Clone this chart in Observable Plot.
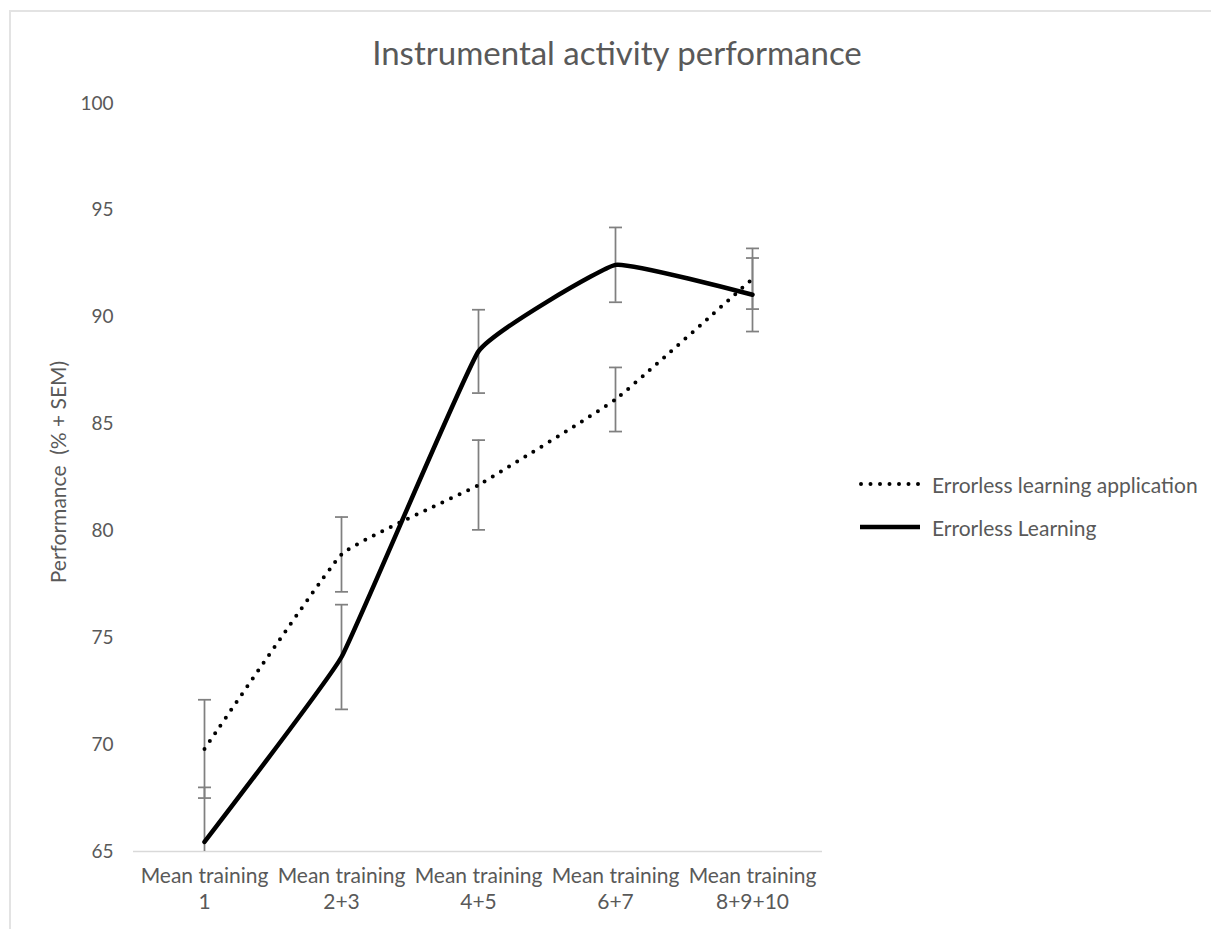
<!DOCTYPE html>
<html>
<head>
<meta charset="utf-8">
<script src="https://cdn.jsdelivr.net/npm/d3@7"></script>
<script src="https://cdn.jsdelivr.net/npm/@observablehq/plot@0.6"></script>
<style>
  html, body { margin: 0; padding: 0; background: #fff; }
  #wrap { position: relative; width: 1211px; height: 929px; overflow: hidden; font-family: Lato, "Open Sans", sans-serif; color: #595959; }
  #border { position: absolute; left: 9px; top: 10px; width: 1300px; height: 1000px; border-top: 2px solid #e3e3e3; border-left: 2px solid #e3e3e3; }
  #title { position: absolute; left: 0; width: 1234px; top: 32px; text-align: center; font-size: 33px; line-height: 40px; }
  #ylabel { position: absolute; left: 57px; top: 472px; transform: translate(-50%, -50%) rotate(-90deg); font-size: 21px; white-space: pre; }
  #chart { position: absolute; left: 0; top: 0; }
  .leg { position: absolute; left: 858px; font-size: 21px; display: flex; align-items: center; white-space: nowrap; }
  .leg svg { margin-right: 10px; }
</style>
</head>
<body>
<div id="wrap">
  <div id="border"></div>
  <div id="title">Instrumental activity performance</div>
  <div id="ylabel">Performance  (% + SEM)</div>
  <div id="chart"></div>
  <div class="leg" style="top:471px"><svg width="64" height="26"><line x1="3" x2="62" y1="13" y2="13" stroke="black" stroke-width="4" stroke-dasharray="0 9.5" stroke-linecap="round"/></svg>Errorless learning application</div>
  <div class="leg" style="top:514px"><svg width="64" height="26"><line x1="2" x2="62" y1="13" y2="13" stroke="black" stroke-width="4.5"/></svg>Errorless Learning</div>
</div>
<script>
const categories = ["Mean training\n1", "Mean training\n2+3", "Mean training\n4+5", "Mean training\n6+7", "Mean training\n8+9+10"];
const seriesNames = ["Errorless learning application", "Errorless Learning"];
const applicationMean = [69.8, 78.9, 82.15, 86.15, 91.8];
const applicationSEM = [2.3, 1.75, 2.1, 1.5, 1.42];
const errorlessMean = [65.45, 74.1, 88.4, 92.45, 91.05];
const errorlessSEM = [2.55, 2.45, 1.95, 1.75, 1.72];
const yTicks = [65, 70, 75, 80, 85, 90, 95, 100];

const rows = [];
categories.forEach((c, i) => {
  rows.push({cat: c, series: seriesNames[0], value: applicationMean[i], sem: applicationSEM[i]});
  rows.push({cat: c, series: seriesNames[1], value: errorlessMean[i], sem: errorlessSEM[i]});
});
const app = rows.filter(d => d.series === seriesNames[0]);
const el = rows.filter(d => d.series === seriesNames[1]);

const capSymbol = {
  draw(context, size) {
    const w = Math.sqrt(size / Math.PI);
    context.moveTo(-w, 0);
    context.lineTo(w, 0);
  }
};
const smooth = d3.curveCardinal.tension(0.7);

const plot = Plot.plot({
  width: 1211,
  height: 929,
  marginLeft: 133,
  marginRight: 389,
  marginTop: 103,
  marginBottom: 78,
  style: {background: "transparent", color: "#595959", fontFamily: "Lato, 'Open Sans', sans-serif"},
  x: {type: "point", domain: categories, padding: 0.5},
  y: {domain: [65, 100]},
  marks: [
    Plot.ruleY([65], {stroke: "#d9d9d9", strokeWidth: 1.5}),
    Plot.axisY({ticks: yTicks, tickSize: 0, tickPadding: 20, fontSize: 19, label: null}),
    Plot.axisX({tickSize: 0, tickPadding: 14, fontSize: 21, lineHeight: 1.2, label: null, tickFormat: d => d}),
    Plot.ruleX(rows, {x: "cat", y1: d => d.value - d.sem, y2: d => d.value + d.sem, stroke: "#808080", strokeWidth: 1.75, clip: true}),
    Plot.dot(rows, {x: "cat", y: d => d.value - d.sem, symbol: capSymbol, r: 6.5, stroke: "#808080", strokeWidth: 1.75, fill: "none", clip: true}),
    Plot.dot(rows, {x: "cat", y: d => d.value + d.sem, symbol: capSymbol, r: 6.5, stroke: "#808080", strokeWidth: 1.75, fill: "none", clip: true}),
    Plot.line(app, {x: "cat", y: "value", stroke: "black", strokeWidth: 4, strokeDasharray: "0 9.5", strokeLinecap: "round", curve: smooth}),
    Plot.line(el, {x: "cat", y: "value", stroke: "black", strokeWidth: 4.5, strokeLinejoin: "round", curve: smooth})
  ]
});
document.getElementById("chart").appendChild(plot);
</script>
</body>
</html>
